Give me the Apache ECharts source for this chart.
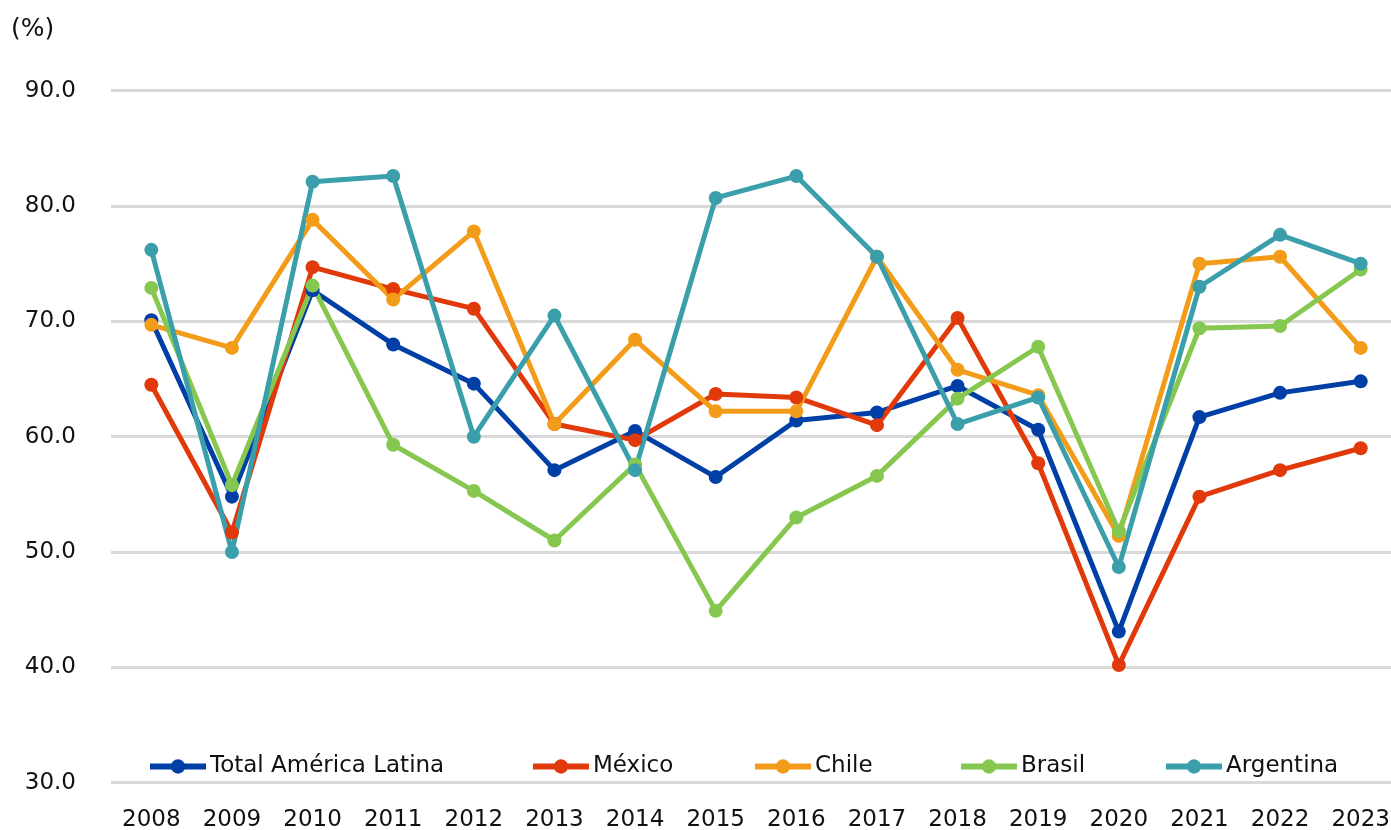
<!DOCTYPE html>
<html>
<head>
<meta charset="utf-8">
<script src="https://cdn.jsdelivr.net/npm/echarts@6/dist/echarts.min.js"></script>
<style>
html,body{margin:0;padding:0;background:#fff;}
#chart{width:1391px;height:830px;}
</style>
</head>
<body>
<div id="chart"></div>
<script>
var years = ['2008','2009','2010','2011','2012','2013','2014','2015','2016','2017','2018','2019','2020','2021','2022','2023'];
var total = [70.1, 54.8, 72.7, 68.0, 64.6, 57.1, 60.5, 56.5, 61.4, 62.1, 64.4, 60.6, 43.1, 61.7, 63.8, 64.8];
var mexico = [64.5, 51.7, 74.7, 72.8, 71.1, 61.1, 59.7, 63.7, 63.4, 61.0, 70.3, 57.7, 40.2, 54.8, 57.1, 59.0];
var chile = [69.7, 67.7, 78.8, 71.9, 77.8, 61.1, 68.4, 62.2, 62.2, 75.6, 65.8, 63.6, 51.4, 75.0, 75.6, 67.7];
var brasil = [72.9, 55.8, 73.1, 59.3, 55.3, 51.0, 57.6, 44.9, 53.0, 56.6, 63.3, 67.8, 51.8, 69.4, 69.6, 74.5];
var argentina = [76.2, 50.0, 82.1, 82.6, 60.0, 70.5, 57.1, 80.7, 82.6, 75.6, 61.1, 63.4, 48.7, 73.0, 77.5, 75.0];

var names = ['Total América Latina','México','Chile','Brasil','Argentina'];
var colors = ['#003fa5','#e2390b','#f39c1a','#86c84f','#3a9fab'];
var values = [total, mexico, chile, brasil, argentina];
var legendLeft = [147, 530, 752, 958, 1163];

var font = 'DejaVu Sans, Verdana, sans-serif';
var chartObj = echarts.init(document.getElementById('chart'));

var series = [];
var legends = [];
for (var i = 0; i < names.length; i++) {
	series.push({
		name: names[i],
		type: 'line',
		data: values[i],
		symbol: 'circle',
		symbolSize: 14,
		itemStyle: {color: colors[i]},
		lineStyle: {color: colors[i], width: 5}
	});
	legends.push({
		data: [names[i]],
		left: legendLeft[i],
		top: 755,
		padding: 0,
		itemWidth: 56,
		itemHeight: 18,
		itemGap: 0,
		lineStyle: {width: 6},
		textStyle: {fontFamily: font, fontSize: 23, color: '#111', padding: [0, 0, 0, -1]}
	});
}

var option = {
	animation: false,
	backgroundColor: '#fff',
	title: {
		text: '(%)',
		left: 6,
		top: 12,
		textStyle: {fontFamily: font, fontSize: 25, fontWeight: 'normal', color: '#111'}
	},
	legend: legends,
	grid: {left: 111, top: 90.7, width: 1290, height: 692, outerBoundsMode: 'none', containLabel: false},
	xAxis: {
		type: 'category',
		data: years,
		boundaryGap: true,
		axisLine: {show: false},
		axisTick: {show: false},
		axisLabel: {fontFamily: font, fontSize: 23, color: '#111', margin: 26}
	},
	yAxis: {
		type: 'value',
		min: 30,
		max: 90,
		interval: 10,
		axisLine: {show: false},
		axisTick: {show: false},
		axisLabel: {
			fontFamily: font, fontSize: 23, color: '#111', margin: 35,
			formatter: function (v) { return v.toFixed(1); }
		},
		splitLine: {lineStyle: {color: '#d9d9d9', width: 3}}
	},
	series: series
};
chartObj.setOption(option);
</script>
</body>
</html>
